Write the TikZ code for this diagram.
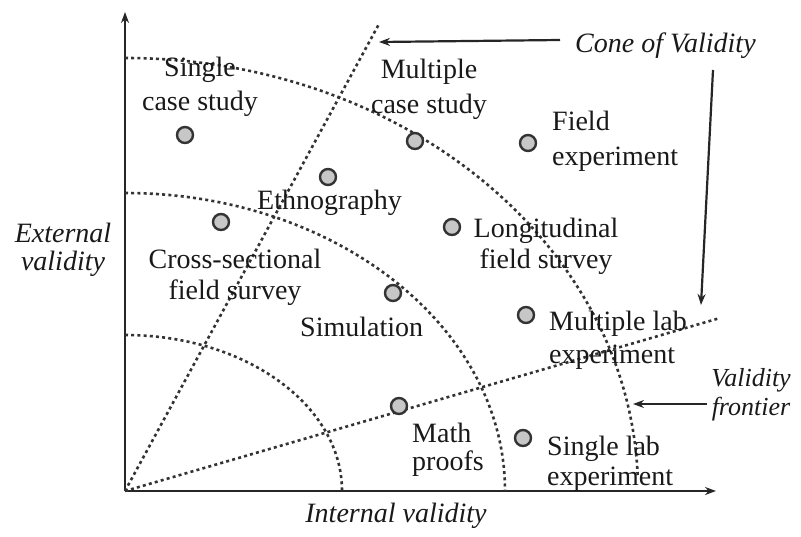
\documentclass[tikz,border=0pt]{standalone}
\usepackage{fontspec}
\setmainfont{Liberation Serif}
\usetikzlibrary{arrows.meta}
\newcommand\mylines[2]{\begin{tabular}[t]{@{}#1@{}}#2\end{tabular}}
\begin{document}
\begin{tikzpicture}[x=1pt,y=-1pt,
  ink/.style={draw=black!85, line width=2.2pt},
  dotline/.style={draw=black!80, line width=2.6pt, dash pattern=on 3pt off 3.2pt},
  pt/.style={circle, draw=black!80, line width=2.4pt, fill=black!22, minimum size=16pt, inner sep=0pt},
  lbl/.style={inner sep=0pt, text=black!90, font=\fontsize{28}{28}\selectfont},
  ilbl/.style={inner sep=0pt, text=black!90, font=\fontsize{28}{28}\selectfont\itshape},
  arr/.style={ink, -{Stealth[length=11pt,width=8pt]}},
]
\useasboundingbox (0,0) rectangle (801,536);
% axes
\coordinate (O) at (125,491);
\coordinate (ytop) at (125,12);
\coordinate (xend) at (716,491);
\draw[arr] (O) -- (ytop);
\draw[arr] (O) -- (xend);
% validity arcs
\draw[dotline] ([yshift=156pt]O) arc[start angle=90,end angle=0,x radius=217pt,y radius=156pt];
\draw[dotline] ([yshift=298pt]O) arc[start angle=90,end angle=0,x radius=380pt,y radius=298pt];
\draw[dotline] ([yshift=433pt]O) arc[start angle=90,end angle=2,x radius=513pt,y radius=433pt];
% cone lines
\coordinate (c1) at (379,24);
\coordinate (c2) at (720,318);
\draw[dotline] (O) -- (c1);
\draw[dotline] (O) -- (c2);
% dots
\node[pt] (d1) at (185,135) {};
\node[pt] (d2) at (328,177) {};
\node[pt] (d3) at (221,222) {};
\node[pt] (d4) at (415,141) {};
\node[pt] (d5) at (528,143) {};
\node[pt] (d6) at (452,227) {};
\node[pt] (d7) at (393,293) {};
\node[pt] (d8) at (526,315) {};
\node[pt] (d9) at (399,406) {};
\node[pt] (d10) at (523,438) {};
% labels
\node[lbl, anchor=base] (t1) at (200,76) {\mylines{c}{Single\\[6pt]case study}};
\node[lbl, anchor=base] (t4) at (429,78) {\mylines{c}{Multiple\\[7pt]case study}};
\node[lbl, anchor=base west] (t5) at (552,130) {\mylines{l}{Field\\[7pt]experiment}};
\node[lbl, anchor=base west] (t2) at (257,209) {Ethnography};
\node[lbl, anchor=base] (t6) at (546,237) {\mylines{c}{Longitudinal\\[3pt]field survey}};
\node[lbl, anchor=base] (t3) at (235,268) {\mylines{c}{Cross-sectional\\[3pt]field survey}};
\node[lbl, anchor=base west] (t7) at (300,336) {Simulation};
\node[lbl, anchor=base west] (t8) at (549,330) {\mylines{l}{Multiple lab\\[5pt]experiment}};
\node[lbl, anchor=base west] (t9) at (412,442) {\mylines{l}{Math\\proofs}};
\node[lbl, anchor=base west] (t10) at (547,455) {\mylines{l}{Single lab\\[2pt]experiment}};
% axis and annotation labels
\node[ilbl, anchor=base] (ev) at (63,242) {\mylines{c}{External\\validity}};
\node[ilbl, anchor=base] (iv) at (396,522) {Internal validity};
\node[ilbl, anchor=base west] (cv) at (575,52) {Cone of Validity};
\node[ilbl, anchor=base, font=\fontsize{26}{26}\selectfont\itshape] (vf) at (751,386) {\mylines{c}{Validity\\[3pt]frontier}};
% pointer arrows
\coordinate (a1s) at (560,40);
\coordinate (a1e) at (379,42);
\coordinate (a2s) at (713,70);
\coordinate (a2e) at (701,305);
\coordinate (a3s) at (707,404);
\coordinate (a3e) at (633,404);
\draw[arr] (a1s) -- (a1e);
\draw[arr] (a2s) -- (a2e);
\draw[arr] (a3s) -- (a3e);
\end{tikzpicture}
\end{document}
